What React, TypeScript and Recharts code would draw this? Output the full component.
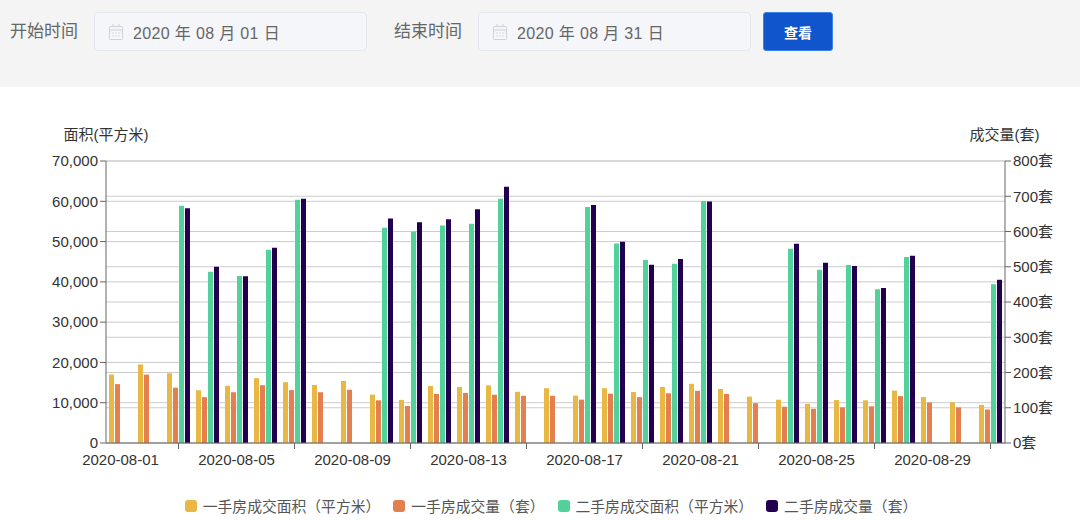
import { BarChart, Bar, XAxis, YAxis, CartesianGrid, Legend } from "recharts";

const days = [
  "2020-08-01", "2020-08-02", "2020-08-03", "2020-08-04", "2020-08-05", "2020-08-06", "2020-08-07", "2020-08-08",
  "2020-08-09", "2020-08-10", "2020-08-11", "2020-08-12", "2020-08-13", "2020-08-14", "2020-08-15", "2020-08-16",
  "2020-08-17", "2020-08-18", "2020-08-19", "2020-08-20", "2020-08-21", "2020-08-22", "2020-08-23", "2020-08-24",
  "2020-08-25", "2020-08-26", "2020-08-27", "2020-08-28", "2020-08-29", "2020-08-30", "2020-08-31",
];
const newArea = [
  17000, 19500, 17300, 13100, 14200, 16100, 15100, 14400, 15400, 12000, 10700, 14150, 13900, 14300, 12700, 13600,
  11750, 13600, 12650, 13900, 14700, 13400, 11500, 10750, 9700, 10650, 10600, 13000, 11400, 10100, 9450,
];
const newCount = [
  167, 194, 157, 130, 144, 164, 150, 144, 151, 121, 105, 139, 142, 137, 134, 134,
  123, 140, 130, 141, 148, 139, 113, 103, 97, 101, 104, 133, 115, 101, 95,
];
const oldArea = [
  0, 0, 58900, 42500, 41450, 48000, 60400, 0, 0, 53400, 52500, 54000, 54450, 60650, 0, 0,
  58600, 49500, 45400, 44500, 60050, 0, 0, 48200, 43000, 44200, 38150, 46150, 0, 0, 39400,
];
const oldCount = [
  0, 0, 666, 500, 473, 554, 693, 0, 0, 637, 626, 635, 663, 727, 0, 0,
  675, 571, 506, 522, 685, 0, 0, 565, 511, 502, 440, 531, 0, 0, 463,
];
const areaTicks = [0, 10000, 20000, 30000, 40000, 50000, 60000, 70000];
const countTicks = [0, 100, 200, 300, 400, 500, 600, 700, 800];

const data = days.map((day, i) => ({
  day,
  newArea: newArea[i],
  newCount: newCount[i],
  oldArea: oldArea[i],
  oldCount: oldCount[i],
}));

const FONT = '"Liberation Sans", "Noto Sans CJK SC", sans-serif';
const AXIS = "#666";
const TEXT = "#333";

// labels sit under every 4th day, the tick marks two days later
const DayTick = ({ x, y, payload, index }: any) => {
  if (index % 4 === 2) return <line x1={x} x2={x} y1={y - 8} y2={y - 2} stroke={AXIS} />;
  if (index % 4 !== 0) return null;
  return (
    <text x={x} y={y + 14} textAnchor="middle" fill={TEXT} fontSize={15} fontFamily={FONT}>
      {payload.value}
    </text>
  );
};

const LegendRow = ({ payload }: any) => (
  <div style={{ display: "flex", justifyContent: "center", gap: 13, paddingTop: 22, paddingLeft: 22, fontFamily: FONT, fontSize: 14.8, color: "#555" }}>
    {payload.map((p: any) => (
      <span key={p.value} style={{ display: "flex", alignItems: "center", gap: 6 }}>
        <span style={{ width: 12, height: 12, borderRadius: 3, background: p.color }} />
        {p.value}
      </span>
    ))}
  </div>
);

const Calendar = () => (
  <svg width={14} height={16} viewBox="0 0 14 16" style={{ marginRight: 10 }}>
    <rect x={0.5} y={2.5} width={13} height={13} rx={1} fill="none" stroke="#cfd2da" />
    <line x1={0.5} x2={13.5} y1={6} y2={6} stroke="#cfd2da" />
    <line x1={4} x2={4} y1={0} y2={3} stroke="#cfd2da" />
    <line x1={10} x2={10} y1={0} y2={3} stroke="#cfd2da" />
    <line x1={3} x2={11} y1={9} y2={9} stroke="#d8dbe2" strokeDasharray="2 1" />
    <line x1={3} x2={11} y1={12} y2={12} stroke="#d8dbe2" strokeDasharray="2 1" />
  </svg>
);

const DateField = ({ left, value }: { left: number; value: string }) => (
  <div
    style={{
      position: "absolute", left, top: 12, width: 273, height: 39, boxSizing: "border-box",
      display: "flex", alignItems: "center", paddingLeft: 14,
      background: "#f5f6fa", border: "1.5px solid #e4e6ee", borderRadius: 4,
      fontSize: 16, color: "#666", letterSpacing: 0.35,
    }}
  >
    <Calendar />
    {value}
  </div>
);

const labelStyle = { position: "absolute", top: 21, fontSize: 17, color: "#666", lineHeight: "22px" } as const;

export default function App() {
  return (
    <div style={{ position: "relative", width: 1080, height: 520, background: "#fff", fontFamily: FONT, overflow: "hidden" }}>
      <style>{`body { margin: 0; }`}</style>

      <div style={{ position: "absolute", left: 0, top: 0, width: 1080, height: 87, background: "#f4f4f4" }}>
        <div style={{ ...labelStyle, left: 10 }}>开始时间</div>
        <DateField left={94} value="2020 年 08 月 01 日" />
        <div style={{ ...labelStyle, left: 394 }}>结束时间</div>
        <DateField left={478} value="2020 年 08 月 31 日" />
        <div
          style={{
            position: "absolute", left: 763, top: 12, width: 70, height: 39, boxSizing: "border-box",
            display: "flex", alignItems: "center", justifyContent: "center",
            background: "#1155cc", border: "1px solid #3d82e6", borderRadius: 3,
            color: "#fff", fontSize: 14, fontWeight: 700,
          }}
        >
          查看
        </div>
      </div>

      <div style={{ position: "absolute", left: 0, top: 86 }}>
        <BarChart
          width={1080}
          height={434}
          data={data}
          barSize={5}
          barGap={1}
          margin={{ top: 75, right: 0, bottom: 0, left: 0 }}
        >
          <CartesianGrid yAxisId="area" vertical={false} stroke="#ccc" />
          <CartesianGrid yAxisId="count" vertical={false} stroke="#ccc" />
          <XAxis dataKey="day" interval={0} height={30} tickLine={false} tick={<DayTick />} stroke={AXIS} />
          <YAxis
            yAxisId="area"
            width={106}
            domain={[0, 70000]}
            ticks={areaTicks}
            tickFormatter={(v) => v.toLocaleString("en-US")}
            tick={{ fill: TEXT, fontSize: 15, fontFamily: FONT }}
            tickSize={6}
            stroke={AXIS}
            label={{ value: "面积(平方米)", position: "top", offset: 21, dx: 53, fill: TEXT, fontSize: 15, fontFamily: FONT }}
          />
          <YAxis
            yAxisId="count"
            orientation="right"
            width={75}
            domain={[0, 800]}
            ticks={countTicks}
            tickFormatter={(v) => `${v}套`}
            tick={{ fill: TEXT, fontSize: 15, fontFamily: FONT }}
            tickSize={6}
            stroke={AXIS}
            label={{ value: "成交量(套)", position: "top", offset: 21, dx: -38, fill: TEXT, fontSize: 15, fontFamily: FONT }}
          />
          <Legend verticalAlign="bottom" height={47} itemSorter={null} content={<LegendRow />} />
          <Bar yAxisId="area" dataKey="newArea" name="一手房成交面积（平方米）" fill="#e8b744" isAnimationActive={false} />
          <Bar yAxisId="count" dataKey="newCount" name="一手房成交量（套）" fill="#e47f4f" isAnimationActive={false} />
          <Bar yAxisId="area" dataKey="oldArea" name="二手房成交面积（平方米）" fill="#52d19a" isAnimationActive={false} />
          <Bar yAxisId="count" dataKey="oldCount" name="二手房成交量（套）" fill="#22004f" isAnimationActive={false} />
        </BarChart>
      </div>
    </div>
  );
}
